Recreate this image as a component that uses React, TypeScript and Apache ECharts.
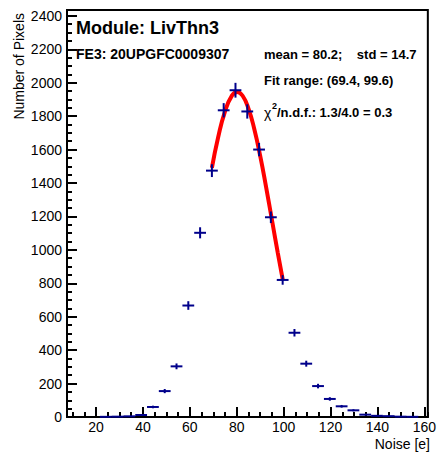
import React, { useEffect, useRef } from "react";
import * as echarts from "echarts";

// Histogram: bin centres start / width, and counts per bin
const firstBinCenter = 24.13;
const binWidth = 5.03;
const counts = [
  1, 2, 4, 12, 60, 155, 303, 667, 1102, 1474, 1835, 1955, 1828, 1600, 1195,
  820, 504, 319, 185, 108, 64, 40, 14, 7, 5, 2, 1,
];

// Fit curve
const fitX = [69.4, 72, 75, 78, 80.2, 82.5, 85, 87.5, 90, 92.5, 95, 97.5, 99.6];
const fitY = [1490, 1669, 1829, 1924, 1945, 1922, 1845, 1722, 1562, 1377, 1180, 982, 824];

// Axis ranges
const xMin = 7.6;
const xMax = 161.5;
const yMin = 0;
const yMax = 2435;

const titleText = "Module: LivThn3";
const feText = "FE3: 20UPGFC0009307";
const statsText = "mean = 80.2;    std = 14.7";
const fitRangeText = "Fit range: (69.4, 99.6)";
const chiSym = "χ";
const chiSup = "2";
const chiRest = "/n.d.f.: 1.3/4.0 = 0.3";
const xTitle = "Noise [e]";
const yTitle = "Number of Pixels";

const FONT = "'Liberation Sans', Arial, Helvetica, sans-serif";
const MARK = "#00008b";

export default function App() {
  const ref = useRef<HTMLDivElement>(null);
  useEffect(() => {
    if (!ref.current) return;
    const chart = echarts.init(ref.current, undefined, { renderer: "svg" });
    const histData = counts.map((c, i) => [firstBinCenter + i * binWidth, c]);
    const fitData = fitX.map((x, i) => [x, fitY[i]]);
    const is20 = (v: number) => Math.abs(v / 20 - Math.round(v / 20)) < 1e-6;
    const isInt200 = (v: number) => Math.abs(v / 200 - Math.round(v / 200)) < 1e-6;

    chart.setOption({
      animation: false,
      backgroundColor: "#ffffff",
      grid: {
        left: 67,
        right: 10,
        top: 10,
        bottom: 39,
        show: true,
        borderColor: "#000",
        borderWidth: 2,
        backgroundColor: "transparent",
      },
      xAxis: [
        {
          type: "value",
          min: xMin,
          max: xMax,
          splitNumber: 8,
          position: "bottom",
          axisLine: { show: true, onZero: false, lineStyle: { color: "#000", width: 2 } },
          axisTick: { show: true, inside: true, length: 10, lineStyle: { color: "#000", width: 2 } },
          splitLine: { show: false },
          axisLabel: {
            show: true,
            margin: 3,
            color: "#000",
            fontSize: 14,
            fontFamily: FONT,
            showMinLabel: false,
            showMaxLabel: false,
            formatter: (v: number) => (is20(v) ? String(Math.round(v)) : ""),
          },
        },
        {
          type: "value",
          min: xMin,
          max: xMax,
          splitNumber: 31,
          position: "bottom",
          axisLine: { show: false, onZero: false },
          axisTick: { show: true, inside: true, length: 5, lineStyle: { color: "#000", width: 2 } },
          splitLine: { show: false },
          axisLabel: { show: false },
        },
      ],
      yAxis: [
        {
          type: "value",
          min: yMin,
          max: yMax,
          interval: 200,
          position: "left",
          axisLine: { show: true, onZero: false, lineStyle: { color: "#000", width: 2 } },
          axisTick: { show: true, inside: true, length: 10, lineStyle: { color: "#000", width: 2 } },
          splitLine: { show: false },
          axisLabel: {
            show: true,
            margin: 5,
            color: "#000",
            fontSize: 14,
            fontFamily: FONT,
            showMaxLabel: false,
            formatter: (v: number) => (isInt200(v) ? String(Math.round(v)) : ""),
          },
        },
        {
          type: "value",
          min: yMin,
          max: yMax,
          interval: 50,
          position: "left",
          axisLine: { show: false, onZero: false },
          axisTick: { show: true, inside: true, length: 5, lineStyle: { color: "#000", width: 2 } },
          splitLine: { show: false },
          axisLabel: { show: false },
        },
      ],
      series: [
        {
          type: "line",
          xAxisIndex: 0,
          yAxisIndex: 0,
          data: fitData,
          smooth: true,
          showSymbol: false,
          symbol: "none",
          lineStyle: { color: "#ff0000", width: 4 },
          z: 2,
        },
        {
          type: "custom",
          xAxisIndex: 0,
          yAxisIndex: 0,
          data: histData,
          z: 3,
          renderItem: (params: any, api: any) => {
            const x = api.value(0);
            const y = api.value(1);
            const e = Math.sqrt(y);
            const l = api.coord([x - binWidth / 2, y]);
            const r = api.coord([x + binWidth / 2, y]);
            const t = api.coord([x, y + e]);
            const b = api.coord([x, Math.max(0, y - e)]);
            return {
              type: "group",
              children: [
                {
                  type: "line",
                  shape: { x1: l[0], y1: l[1], x2: r[0], y2: r[1] },
                  style: { stroke: MARK, lineWidth: 2 },
                },
                {
                  type: "line",
                  shape: { x1: t[0], y1: t[1], x2: b[0], y2: b[1] },
                  style: { stroke: MARK, lineWidth: 2 },
                },
              ],
            };
          },
        },
      ],
      graphic: [
        {
          type: "text",
          left: 76,
          top: 19,
          style: { text: titleText, font: `bold 18px ${FONT}`, fill: "#000" },
        },
        {
          type: "text",
          left: 76,
          top: 47,
          style: { text: feText, font: `bold 14px ${FONT}`, fill: "#000" },
        },
        {
          type: "text",
          left: 264,
          top: 48,
          style: { text: statsText, font: `bold 13px ${FONT}`, fill: "#000", whiteSpace: "pre" },
        },
        {
          type: "text",
          left: 264,
          top: 74,
          style: { text: fitRangeText, font: `bold 13px ${FONT}`, fill: "#000" },
        },
        {
          type: "text",
          x: 264,
          y: 106,
          style: { text: chiSym, font: `14px ${FONT}`, fill: "#000", verticalAlign: "alphabetic" },
        },
        {
          type: "text",
          x: 272,
          y: 101.5,
          style: { text: chiSup, font: `bold 9px ${FONT}`, fill: "#000", verticalAlign: "alphabetic" },
        },
        {
          type: "text",
          x: 277,
          y: 106,
          style: { text: chiRest, font: `bold 13px ${FONT}`, fill: "#000", verticalAlign: "alphabetic" },
        },
        {
          type: "text",
          x: 430,
          y: 444,
          style: {
            text: xTitle,
            font: `14px ${FONT}`,
            fill: "#000",
            align: "right",
            verticalAlign: "middle",
          },
        },
        {
          type: "text",
          x: 19,
          y: 13,
          rotation: Math.PI / 2,
          style: {
            text: yTitle,
            font: `14px ${FONT}`,
            fill: "#000",
            align: "right",
            verticalAlign: "middle",
          },
        },
      ],
    });
    return () => chart.dispose();
  }, []);
  return (
    <div
      ref={ref}
      style={{ position: "fixed", left: 0, top: 0, width: 439, height: 456, background: "#fff" }}
    />
  );
}
